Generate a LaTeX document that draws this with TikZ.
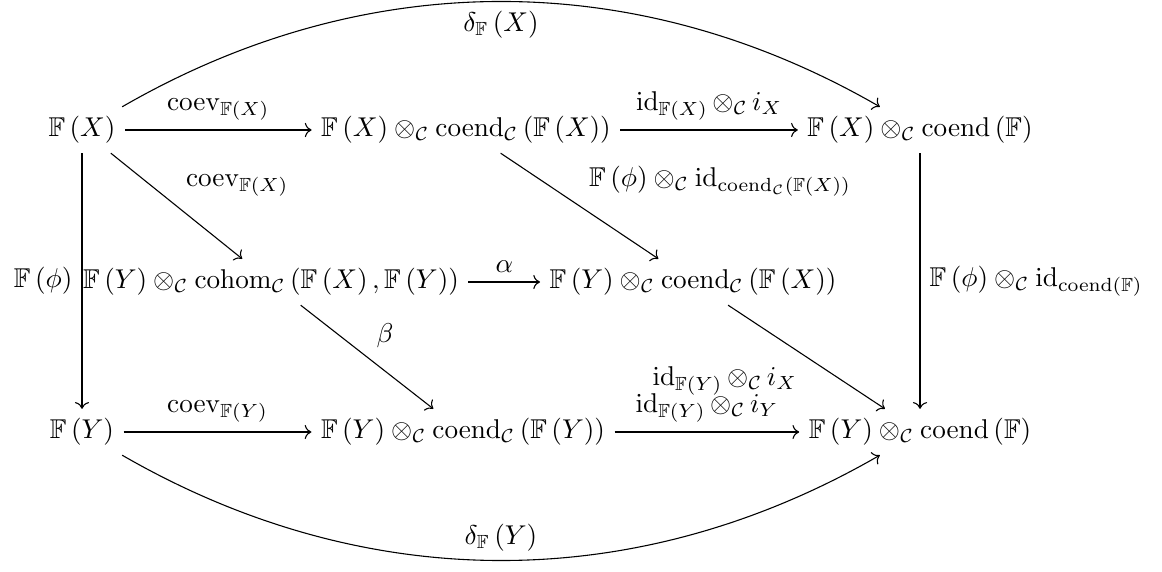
\documentclass[tikz,border=0pt]{standalone}
\usepackage{amsmath}
\usepackage{amssymb}
\usepackage{tikz}
\usetikzlibrary{arrows.meta,positioning}
\newcommand{\FF}{\mathbb{F}}
\newcommand{\cC}{\mathcal{C}}
\newcommand{\coend}{\operatorname{coend}}

\begin{document}
\begin{tikzpicture}[x=0.368pt,y=0.368pt,
    obj/.style={inner sep=3.33pt},
    mor/.style={->}]
  \useasboundingbox (0,0) rectangle (1162,571);

  % objects
  \node[obj] (fx)       at (82,441)  {$\FF\left(X\right)$};
  \node[obj] (fxcoend)  at (466,441) {$\FF\left(X\right)\otimes_{\cC}\coend_{\cC}\left(\FF\left(X\right)\right)$};
  \node[obj] (fxend)    at (920,441) {$\FF\left(X\right)\otimes_{\cC}\coend\left(\FF\right)$};
  \node[obj] (cohom)    at (271,289) {$\FF\left(Y\right)\otimes_{\cC}\operatorname{cohom}_{\cC}\left(\FF\left(X\right),\FF\left(Y\right)\right)$};
  \node[obj] (fycoendx) at (693,289) {$\FF\left(Y\right)\otimes_{\cC}\coend_{\cC}\left(\FF\left(X\right)\right)$};
  \node[obj] (fy)       at (82,139)  {$\FF\left(Y\right)$};
  \node[obj] (fycoendy) at (463,139) {$\FF\left(Y\right)\otimes_{\cC}\coend_{\cC}\left(\FF\left(Y\right)\right)$};
  \node[obj] (fyend)    at (920,139) {$\FF\left(Y\right)\otimes_{\cC}\coend\left(\FF\right)$};

  % top row
  \draw[mor] (fx) -- node[above] {$\operatorname{coev}_{\FF\left(X\right)}$} (fxcoend);
  \draw[mor] (fxcoend) -- node[above] {$\operatorname{id}_{\FF\left(X\right)}\otimes_{\cC}\,i_X$} (fxend);
  \draw[mor] (fx) to[out=30,in=150,looseness=0.95] node[below] {$\delta_{\FF}\left(X\right)$} (fxend);

  % diagonals
  \draw[mor] (fx) -- node[above right] {$\operatorname{coev}_{\FF\left(X\right)}$} (cohom);
  \draw[mor] (fxcoend) -- node[above right] {$\FF\left(\phi\right)\otimes_{\cC}\operatorname{id}_{\coend_{\cC}\left(\FF\left(X\right)\right)}$} (fycoendx);
  \draw[mor] (cohom) -- node[above right] {$\beta$} (fycoendy);
  \draw[mor] (fycoendx) -- node[below left] {$\operatorname{id}_{\FF\left(Y\right)}\otimes_{\cC}\,i_X$} (fyend);

  % middle row and verticals
  \draw[mor] (cohom) -- node[above] {$\alpha$} (fycoendx);
  \draw[mor] (fx) -- node[left] {$\FF\left(\phi\right)$} (fy);
  \draw[mor] (fxend) -- node[right] {$\FF\left(\phi\right)\otimes_{\cC}\operatorname{id}_{\coend\left(\FF\right)}$} (fyend);

  % bottom row
  \draw[mor] (fy) -- node[above] {$\operatorname{coev}_{\FF\left(Y\right)}$} (fycoendy);
  \draw[mor] (fycoendy) -- node[above] {$\operatorname{id}_{\FF\left(Y\right)}\otimes_{\cC}\,i_Y$} (fyend);
  \draw[mor] (fy) to[out=-30,in=-150,looseness=0.95] node[above] {$\delta_{\FF}\left(Y\right)$} (fyend);
\end{tikzpicture}
\end{document}
